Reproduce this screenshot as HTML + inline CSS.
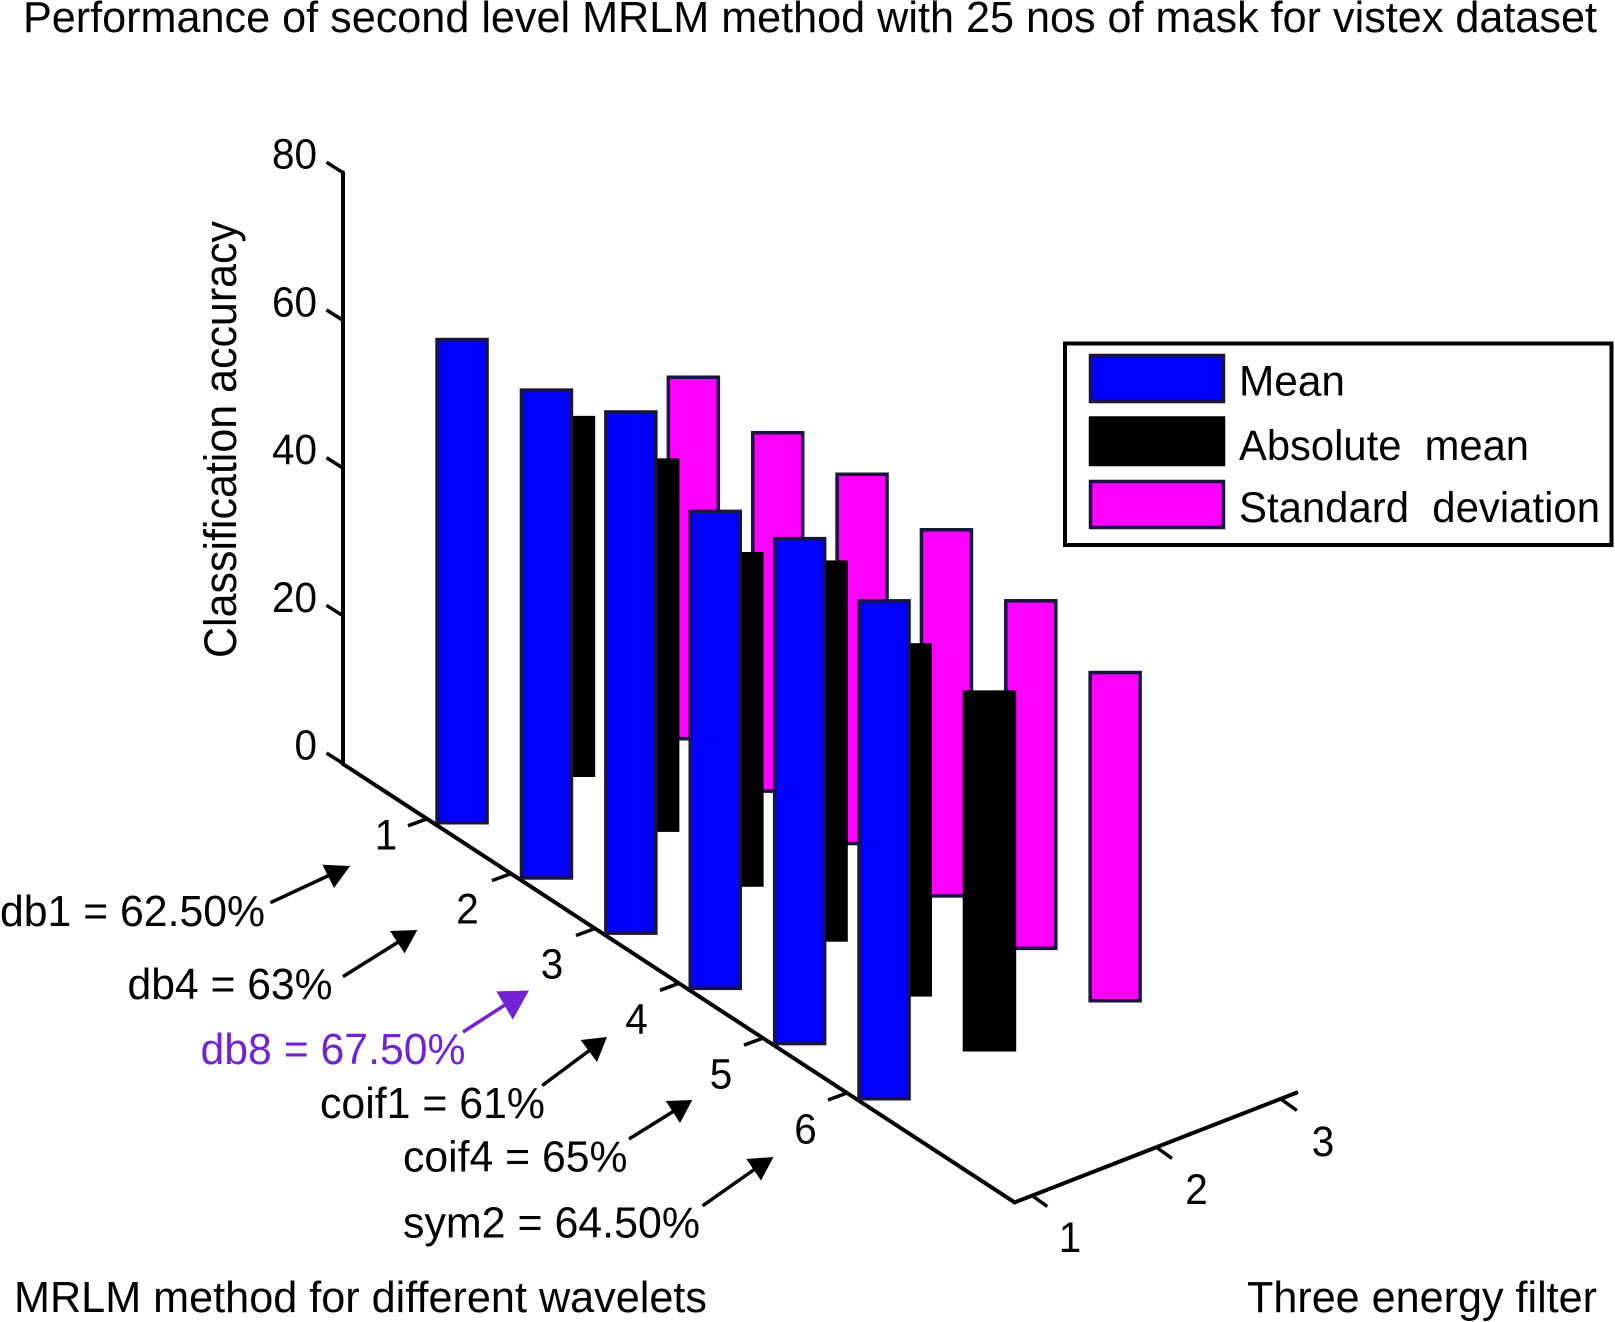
<!DOCTYPE html>
<html lang="en">
<head>
<meta charset="utf-8">
<title>Performance of second level MRLM method</title>
<style>
  html, body { margin: 0; padding: 0; background: #fff; }
  body { width: 1615px; height: 1322px; overflow: hidden; }
  svg { display: block; }
  text { font-family: "Liberation Sans", Arial, sans-serif; fill: #000; white-space: pre; }
</style>
</head>
<body>
<svg id="chart" width="1615" height="1322" viewBox="0 0 1615 1322" xmlns="http://www.w3.org/2000/svg">
  <rect x="0" y="0" width="1615" height="1322" fill="#fff"/>

  <text x="23" y="32" font-size="44" textLength="1574" lengthAdjust="spacingAndGlyphs">Performance of second level MRLM method with 25 nos of mask for vistex dataset</text>

  <text transform="translate(236,658) rotate(-90)" font-size="45" textLength="437" lengthAdjust="spacingAndGlyphs">Classification accuracy</text>

  <g id="axes" stroke="#000" stroke-width="4" fill="none" stroke-linecap="round">
    <line x1="343" y1="172.6" x2="343" y2="764"/>
    <line x1="343" y1="764" x2="1014.7" y2="1202.4"/>
    <line x1="1014.7" y1="1202.4" x2="1296.4" y2="1092.7"/>
  </g>
  <g id="ticks"></g>
  <g id="bars"></g>

  <g>
    <rect x="1065" y="343.5" width="546.5" height="201.5" fill="#fff" stroke="#000" stroke-width="4"/>
    <rect x="1090.5" y="355.5" width="133" height="46" fill="#0000ff" stroke="#1a1440" stroke-width="3.5"/>
    <text x="1239" y="395.6" font-size="43" textLength="106" lengthAdjust="spacingAndGlyphs">Mean</text>
    <rect x="1090.5" y="418" width="133" height="46.5" fill="#000" stroke="#000" stroke-width="3.5"/>
    <text x="1239" y="460" font-size="43" textLength="290" lengthAdjust="spacingAndGlyphs">Absolute  mean</text>
    <rect x="1090.5" y="481.5" width="133" height="46" fill="#ff00ff" stroke="#1a1440" stroke-width="3.5"/>
    <text x="1239" y="522" font-size="43" textLength="361" lengthAdjust="spacingAndGlyphs">Standard  deviation</text>
  </g>

  <g font-size="44">
    <text x="0" y="926" textLength="265" lengthAdjust="spacingAndGlyphs">db1 = 62.50%</text>
    <line x1="270.4" y1="902.7" x2="332" y2="874" stroke="#000" stroke-width="3.5"/>
    <polygon points="350,866 322.4,864.7 334,888" fill="#000"/>

    <text x="127.5" y="999" textLength="205" lengthAdjust="spacingAndGlyphs">db4 = 63%</text>
    <line x1="343" y1="976.6" x2="400" y2="941" stroke="#000" stroke-width="3.5"/>
    <polygon points="417.3,930 390,931 404.6,953.4" fill="#000"/>

    <text x="200.5" y="1064" textLength="265" lengthAdjust="spacingAndGlyphs" style="fill:#7322d6">db8 = 67.50%</text>
    <line x1="463" y1="1032" x2="508" y2="1003" stroke="#7322d6" stroke-width="3.5"/>
    <polygon points="529,990.5 496.4,991.4 512.8,1019.6" fill="#7322d6"/>

    <text x="320" y="1118" textLength="225" lengthAdjust="spacingAndGlyphs">coif1 = 61%</text>
    <line x1="542.3" y1="1085.5" x2="590" y2="1050" stroke="#000" stroke-width="3.5"/>
    <polygon points="607,1037 580.6,1040 597,1062" fill="#000"/>

    <text x="403" y="1171.5" textLength="224.5" lengthAdjust="spacingAndGlyphs">coif4 = 65%</text>
    <line x1="629" y1="1139" x2="674" y2="1111" stroke="#000" stroke-width="3.5"/>
    <polygon points="692.3,1100 665.8,1101 680,1123" fill="#000"/>

    <text x="403" y="1237.5" textLength="297" lengthAdjust="spacingAndGlyphs">sym2 = 64.50%</text>
    <line x1="702.6" y1="1205.8" x2="755" y2="1169" stroke="#000" stroke-width="3.5"/>
    <polygon points="773.5,1157 746.4,1159 761,1180.5" fill="#000"/>
  </g>

  <text x="14" y="1312" font-size="44" textLength="693" lengthAdjust="spacingAndGlyphs">MRLM method for different wavelets</text>
  <text x="1247" y="1312" font-size="44" textLength="350" lengthAdjust="spacingAndGlyphs">Three energy filter</text>
</svg>

<script>
// Chart data
const categoryTicks = [1, 2, 3, 4, 5, 6];
const seriesTicks = [1, 2, 3];
const zTicks = [0, 20, 40, 60, 80];
const meanValues = [62.8, 63.4, 67.7, 62.0, 65.6, 64.7];
const absoluteMeanValues = [46.6, 48.2, 43.2, 49.2, 45.6, 46.6];
const standardDeviationValues = [47.1, 46.7, 48.1, 47.7, 45.3, 42.8];

const SVG_NS = 'http://www.w3.org/2000/svg';
const barsLayer = document.getElementById('bars');
const ticksLayer = document.getElementById('ticks');

// Axis functions
function zAxisY(v) { return 763.5 - v * 7.385; }
function barHeight(v) { return v * 7.75; }
function categoryAxisX(c) { return 427 + 84 * (c - 1); }
function categoryAxisY(c) { return 764 + (categoryAxisX(c) - 343) * 0.6527; }
function seriesAxisX(s) { return 1031.3 + 124.75 * (s - 1); }
function seriesAxisY(s) { return 1195 - 48 * (s - 1); }

// Ground rails of the oblique projection: one per filter, along the wavelet direction
function railLeft(seriesIndex, i) {
  if (seriesIndex === 0) return 435.3 + 84.4 * i;
  if (seriesIndex === 1) return 541.7 + 84.2 * i;
  return 666.6 + 84.36 * i;
}
function railBase(seriesIndex, i) {
  if (seriesIndex === 0) return 824.5 + 55.2 * i;
  if (seriesIndex === 1) return 777 + 54.9 * i;
  return 740.5 + 52.4 * i;
}

function addLine(x1, y1, x2, y2, name) {
  const el = document.createElementNS(SVG_NS, 'line');
  el.setAttribute('x1', x1);
  el.setAttribute('y1', y1);
  el.setAttribute('x2', x2);
  el.setAttribute('y2', y2);
  el.setAttribute('stroke', '#000');
  el.setAttribute('stroke-width', '3.5');
  
  
  ticksLayer.appendChild(el);
}
function addLabel(x, y, content, anchor, name) {
  const el = document.createElementNS(SVG_NS, 'text');
  el.setAttribute('x', x);
  el.setAttribute('y', y);
  el.setAttribute('font-size', '43');
  el.setAttribute('text-anchor', anchor);
  el.setAttribute('textLength', 22.5 * content.length);
  el.setAttribute('lengthAdjust', 'spacingAndGlyphs');
  el.textContent = content;
  
  
  ticksLayer.appendChild(el);
}

zTicks.forEach(function (v) {
  const y = zAxisY(v);
  addLine(326.5, y - 10.5, 343, y, 'z-tick-' + v);
  addLabel(317, y - 4, String(v), 'end', 'z-tick-label-' + v);
});
categoryTicks.forEach(function (c) {
  const x = categoryAxisX(c);
  const y = categoryAxisY(c);
  addLine(x - 19, y + 7, x, y, 'category-tick-' + c);
  const firstLift = c === 1 ? 19 : 0;
  const firstShift = c === 1 ? 3 : 0;
  addLabel(383 + 84.5 * (c - 1) + firstShift, 868.5 + 55 * (c - 1) - firstLift, String(c), 'middle', 'category-tick-label-' + c);
});
seriesTicks.forEach(function (s) {
  const x = seriesAxisX(s);
  const y = seriesAxisY(s);
  addLine(x, y, x + 16, y + 11.5, 'series-tick-' + s);
  addLabel(1070 + 126.5 * (s - 1), 1252 - 48 * (s - 1), String(s), 'middle', 'series-tick-label-' + s);
});

function drawSeries(values, seriesIndex, fill, stroke, seriesName) {
  values.forEach(function (v, i) {
    const left = railLeft(seriesIndex, i);
    const base = railBase(seriesIndex, i);
    const h = barHeight(v);
    const r = document.createElementNS(SVG_NS, 'rect');
    r.setAttribute('x', left + 1.75);
    r.setAttribute('y', base - h + 1.75);
    r.setAttribute('width', 50);
    r.setAttribute('height', h - 3.5);
    r.setAttribute('fill', fill);
    r.setAttribute('stroke', stroke);
    r.setAttribute('stroke-width', '3.5');
    
    
    barsLayer.appendChild(r);
  });
}

// Painter's order: back filter first
drawSeries(standardDeviationValues, 2, '#ff00ff', '#1a1440', 'standard-deviation');
drawSeries(absoluteMeanValues, 1, '#000000', '#000000', 'absolute-mean');
drawSeries(meanValues, 0, '#0000ff', '#1a1440', 'mean');
</script>
</body>
</html>
